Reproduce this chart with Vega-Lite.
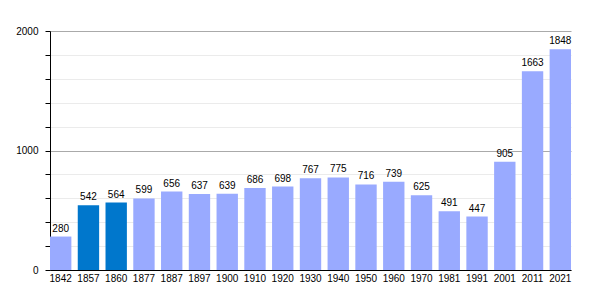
{
  "$schema": "https://vega.github.io/schema/vega-lite/v6.json",
  "width": 521,
  "height": 239,
  "autosize": {"type": "none"},
  "padding": {"left": 50, "top": 31, "right": 29, "bottom": 30},
  "background": "white",
  "config": {"view": {"stroke": null}, "font": "Liberation Sans"},
  "data": {
    "values": [
      {"year": "1842", "pop": 280, "group": "a"},
      {"year": "1857", "pop": 542, "group": "b"},
      {"year": "1860", "pop": 564, "group": "b"},
      {"year": "1877", "pop": 599, "group": "a"},
      {"year": "1887", "pop": 656, "group": "a"},
      {"year": "1897", "pop": 637, "group": "a"},
      {"year": "1900", "pop": 639, "group": "a"},
      {"year": "1910", "pop": 686, "group": "a"},
      {"year": "1920", "pop": 698, "group": "a"},
      {"year": "1930", "pop": 767, "group": "a"},
      {"year": "1940", "pop": 775, "group": "a"},
      {"year": "1950", "pop": 716, "group": "a"},
      {"year": "1960", "pop": 739, "group": "a"},
      {"year": "1970", "pop": 625, "group": "a"},
      {"year": "1981", "pop": 491, "group": "a"},
      {"year": "1991", "pop": 447, "group": "a"},
      {"year": "2001", "pop": 905, "group": "a"},
      {"year": "2011", "pop": 1663, "group": "a"},
      {"year": "2021", "pop": 1848, "group": "a"}
    ]
  },
  "encoding": {
    "x": {
      "field": "year",
      "type": "ordinal",
      "sort": null,
      "scale": {"paddingInner": 0.23, "paddingOuter": 0},
      "axis": {
        "title": null,
        "labelAngle": 0,
        "labelFontSize": 10,
        "labelColor": "#000",
        "labelPadding": 3,
        "ticks": false,
        "domainColor": "#000",
        "domainWidth": 1
      }
    },
    "y": {
      "field": "pop",
      "type": "quantitative",
      "scale": {"domain": [0, 2000], "nice": false},
      "axis": {
        "title": null,
        "values": [0, 200, 400, 600, 800, 1000, 1200, 1400, 1600, 1800, 2000],
        "labelExpr": "datum.value % 1000 === 0 ? datum.value : ''",
        "labelFontSize": 10,
        "labelColor": "#000",
        "labelPadding": 7,
        "tickSize": 5,
        "tickColor": "#000",
        "domainColor": "#000",
        "grid": true,
        "gridColor": {"condition": {"test": "datum.value % 1000 === 0", "value": "#aaaaaa"}, "value": "#ebebeb"},
        "gridOpacity": 1
      }
    }
  },
  "layer": [
    {
      "mark": {"type": "bar"},
      "encoding": {
        "color": {
          "field": "group",
          "type": "nominal",
          "scale": {"domain": ["a", "b"], "range": ["#99aaff", "#0077cc"]},
          "legend": null
        }
      }
    },
    {
      "mark": {"type": "text", "baseline": "bottom", "dy": -3, "fontSize": 10, "color": "#000"},
      "encoding": {"text": {"field": "pop", "type": "quantitative"}}
    }
  ]
}
